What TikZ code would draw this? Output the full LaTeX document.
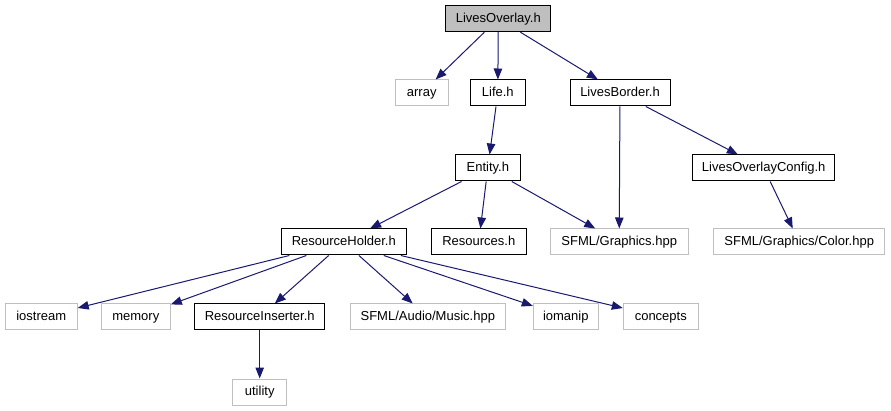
\documentclass[tikz,border=0pt]{standalone}
\usepackage{fontspec}
\setmainfont{Liberation Sans}
\usetikzlibrary{arrows.meta}
\definecolor{dgEdge}{HTML}{191970}
\definecolor{dgGray}{HTML}{BFBFBF}

\begin{document}
\begin{tikzpicture}[x=1pt,y=-1pt,
  every node/.style={font=\fontsize{13}{15}\selectfont,inner sep=0pt,minimum height=26pt,
    text height=9.5pt,text depth=2.8pt,line width=1pt},
  hdr/.style={draw=black},
  sys/.style={draw=dgGray},
  root/.style={draw=black,fill=dgGray},
  inc/.style={dgEdge,line width=1pt,-{Triangle[length=11pt,width=8.5pt]}}]
  \useasboundingbox (0,0) rectangle (891,411);
  % include levels, top to bottom
  \node[root,minimum width=105pt] (over) at (498.3,18.7) {LivesOverlay.h};
  \node[sys,minimum width=53pt] (array) at (421.7,93) {array};
  \node[hdr,minimum width=55pt] (life) at (497.8,93) {Life.h};
  \node[hdr,minimum width=100pt] (border) at (620,93) {LivesBorder.h};
  \node[hdr,minimum width=65pt] (entity) at (487.8,168) {Entity.h};
  \node[hdr,minimum width=142pt] (config) at (763.7,168) {LivesOverlayConfig.h};
  \node[hdr,minimum width=125pt] (holder) at (343.8,242) {ResourceHolder.h};
  \node[hdr,minimum width=95pt] (resources) at (478.8,242) {Resources.h};
  \node[sys,minimum width=138pt] (graphics) at (619.2,242) {SFML/Graphics.hpp};
  \node[sys,minimum width=171pt] (color) at (799.2,242) {SFML/Graphics/Color.hpp};
  \node[sys,minimum width=72pt] (iostream) at (41.2,317) {iostream};
  \node[sys,minimum width=69pt] (memory) at (135.8,317) {memory};
  \node[hdr,minimum width=130pt] (inserter) at (259.7,317) {ResourceInserter.h};
  \node[sys,minimum width=155pt] (music) at (427.8,317) {SFML/Audio/Music.hpp};
  \node[sys,minimum width=65pt] (iomanip) at (565.8,317) {iomanip};
  \node[sys,minimum width=75pt] (concepts) at (660.8,317) {concepts};
  \node[sys,minimum width=54pt] (utility) at (259.7,392) {utility};

  % dependencies
  \foreach \t in {array,life,border} \draw[inc] (over) -- (\t);
  \draw[inc] (life) -- (entity);
  \foreach \t in {graphics,config} \draw[inc] (border) -- (\t);
  \foreach \t in {holder,resources,graphics} \draw[inc] (entity) -- (\t);
  \draw[inc] (config) -- (color);
  \foreach \t in {iostream,memory,inserter,music,iomanip,concepts}
    \draw[inc] (holder) -- (\t);
  \draw[inc] (inserter) -- (utility);
\end{tikzpicture}
\end{document}
